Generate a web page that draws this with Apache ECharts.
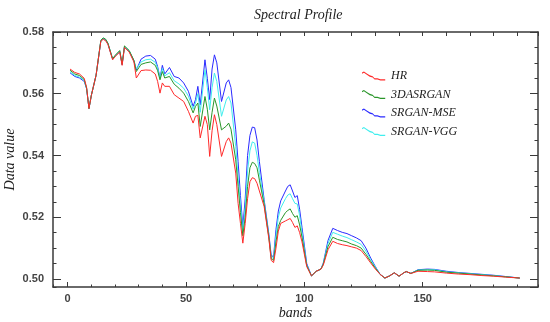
<!DOCTYPE html>
<html>
<head>
<meta charset="utf-8">
<script src="https://cdn.jsdelivr.net/npm/echarts@6/dist/echarts.min.js"></script>
<style>html,body{margin:0;padding:0;background:#fff}#c{width:550px;height:322px}</style>
</head>
<body>
<div id="c"></div>
<script>
const bands = [1,3,5,7,8,9,10,12,14,15,16,17,19,20,22,23,24,26,28,29,31,33,35,37,38,39,40,41,43,45,47,49,51,53,54,55,56,58,59,60,61,62,63,65,67,68,69,71,72,73,74,75,76,77,78,79,80,81,83,85,86,87,88,89,90,92,93,94,95,96,97,98,99,101,103,105,107,108,110,112,114,116,118,120,122,124,126,128,130,132,134,136,138,140,142,143,145,148,152,155,160,165,170,175,180,185,191];
const hr = [.5680,.5669,.5664,.5650,.5620,.5552,.5595,.5660,.5770,.5776,.5772,.5760,.5710,.5720,.5735,.5692,.5750,.5735,.5703,.5651,.5675,.5677,.5676,.5664,.5640,.5602,.5635,.5624,.5624,.5597,.5586,.5575,.5543,.5505,.5527,.5530,.5457,.5527,.5500,.5397,.5480,.5532,.5500,.5397,.5445,.5457,.5440,.5343,.5245,.5180,.5116,.5180,.5260,.5315,.5328,.5325,.5310,.5285,.5235,.5130,.5060,.5053,.5100,.5155,.5180,.5188,.5192,.5196,.5183,.5167,.5172,.5150,.5120,.5040,.5010,.5025,.5032,.5045,.5095,.5122,.5115,.5111,.5108,.5104,.5100,.5092,.5073,.5052,.5032,.5015,.5003,.5010,.5020,.5009,.5020,.5024,.5018,.5025,.5024,.5023,.5019,.5016,.5014,.5011,.5009,.5006,.5003];
const dasrgan = [.5676,.5664,.5659,.5646,.5618,.5552,.5595,.5660,.5773,.5781,.5777,.5764,.5713,.5724,.5740,.5696,.5755,.5740,.5708,.5672,.5695,.5700,.5703,.5692,.5675,.5645,.5672,.5651,.5656,.5631,.5618,.5602,.5575,.5538,.5559,.5570,.5494,.5591,.5550,.5483,.5540,.5586,.5560,.5483,.5495,.5505,.5485,.5386,.5300,.5215,.5140,.5200,.5300,.5360,.5378,.5374,.5360,.5320,.5242,.5135,.5065,.5060,.5120,.5170,.5190,.5215,.5222,.5227,.5212,.5200,.5205,.5175,.5135,.5043,.5010,.5025,.5032,.5048,.5105,.5135,.5128,.5124,.5120,.5113,.5108,.5100,.5080,.5057,.5035,.5015,.5003,.5010,.5020,.5009,.5020,.5024,.5018,.5028,.5029,.5028,.5022,.5019,.5016,.5013,.5010,.5007,.5003];
const srganMse = [.5668,.5656,.5651,.5640,.5616,.5552,.5595,.5660,.5770,.5779,.5775,.5762,.5712,.5722,.5737,.5694,.5752,.5738,.5706,.5677,.5712,.5722,.5724,.5712,.5688,.5651,.5692,.5664,.5685,.5656,.5651,.5635,.5608,.5559,.5581,.5624,.5564,.5710,.5650,.5581,.5680,.5726,.5700,.5575,.5635,.5645,.5620,.5483,.5380,.5270,.5168,.5260,.5400,.5465,.5492,.5490,.5450,.5380,.5257,.5145,.5075,.5073,.5160,.5220,.5253,.5285,.5300,.5305,.5285,.5264,.5270,.5225,.5167,.5050,.5010,.5025,.5032,.5052,.5125,.5164,.5157,.5151,.5147,.5140,.5133,.5124,.5100,.5068,.5040,.5015,.5003,.5010,.5020,.5009,.5020,.5024,.5018,.5030,.5032,.5031,.5025,.5021,.5018,.5015,.5012,.5008,.5003];
const srganVgg = [.5671,.5659,.5654,.5643,.5617,.5552,.5595,.5660,.5771,.5780,.5776,.5763,.5712,.5723,.5738,.5695,.5753,.5739,.5707,.5680,.5703,.5710,.5712,.5702,.5683,.5650,.5682,.5658,.5668,.5642,.5632,.5618,.5592,.5550,.5570,.5600,.5540,.5678,.5620,.5548,.5620,.5667,.5640,.5527,.5580,.5591,.5570,.5429,.5330,.5240,.5152,.5230,.5350,.5415,.5444,.5440,.5400,.5345,.5250,.5140,.5070,.5066,.5140,.5200,.5230,.5260,.5272,.5276,.5260,.5245,.5243,.5205,.5150,.5046,.5010,.5025,.5032,.5050,.5115,.5151,.5145,.5139,.5134,.5127,.5120,.5112,.5090,.5063,.5038,.5015,.5003,.5010,.5020,.5009,.5020,.5024,.5018,.5029,.5030,.5030,.5023,.5020,.5017,.5014,.5011,.5007,.5003];
const seriesNames = ['HR','3DASRGAN','SRGAN-MSE','SRGAN-VGG'];
const xRange = [-6.2, 198.7];
const yRange = [0.4974, 0.58];

const chart = echarts.init(document.getElementById('c'), null, {renderer:'canvas'});
const axisColor = '#3a3a3a';
const labelStyle = {color:'#444', fontFamily:'Liberation Sans', fontWeight:'bold', fontSize:11};
const nameStyle = {color:'#222', fontFamily:'Liberation Serif', fontStyle:'italic', fontWeight:'normal', fontSize:14};
function xa(pos, step, len, opts) {
  return Object.assign({
    type:'value', gridIndex:0, position:pos, min:xRange[0], max:xRange[1],
    minInterval:step, maxInterval:step,
    axisLine:{show:false, onZero:false, lineStyle:{color:axisColor, width:1.5}},
    axisTick:{show:true, inside:true, length:len, lineStyle:{color:axisColor, width:1}},
    axisLabel:{show:false}, splitLine:{show:false}
  }, opts || {});
}
function ya(pos, step, len, opts) {
  return Object.assign({
    type:'value', gridIndex:0, position:pos, min:yRange[0], max:yRange[1],
    minInterval:step, maxInterval:step,
    axisLine:{show:false, onZero:false, lineStyle:{color:axisColor, width:1.5}},
    axisTick:{show:true, inside:true, length:len, lineStyle:{color:axisColor, width:1}},
    axisLabel:{show:false}, splitLine:{show:false}
  }, opts || {});
}
const mk = arr => bands.map((b,i)=>[b, arr[i]]);
const colors = {'HR':'#ff2a2a','3DASRGAN':'#2a962a','SRGAN-MSE':'#2a2aff','SRGAN-VGG':'#40eeee'};
const dataMap = {'HR':hr,'3DASRGAN':dasrgan,'SRGAN-MSE':srganMse,'SRGAN-VGG':srganVgg};
const drawOrder = ['SRGAN-MSE','SRGAN-VGG','3DASRGAN','HR'];
const icon = 'path://M0,1 L2,0 L5,2 L8,4 L11,5 L13,7 L16,7 L19,8 L24,8 L24,9.3 L19,9.3 L16,8.3 L13,8.3 L11,6.3 L8,5.3 L5,3.3 L2,1.3 L0,2.3 Z';

chart.setOption({
  animation:false,
  backgroundColor:'#fff',
  title:{text:'Spectral Profile', left:249, top:3, textStyle:nameStyle},
  grid:{left:53, right:12, top:32, bottom:35, containLabel:false, outerBoundsMode:'none'},
  legend:{
    data:seriesNames, orient:'vertical', left:357, top:65, itemGap:6.5,
    itemWidth:25, itemHeight:9, icon:icon,
    textStyle:{color:'#222', fontFamily:'Liberation Serif', fontStyle:'italic', fontSize:12}
  },
  xAxis:[
    xa('bottom', 50, 5, {
      axisLine:{show:true, onZero:false, lineStyle:{color:axisColor, width:1.5}},
      axisLabel:Object.assign({show:true, margin:6, showMinLabel:false, showMaxLabel:false}, labelStyle),
      name:'bands', nameLocation:'middle', nameGap:19, nameMoveOverlap:false, nameTextStyle:nameStyle
    }),
    xa('bottom', 10, 2.5),
    xa('top', 10, 4, {axisLine:{show:true, onZero:false, lineStyle:{color:axisColor, width:1.5}}})
  ],
  yAxis:[
    ya('left', 0.02, 8, {
      axisLine:{show:true, onZero:false, lineStyle:{color:axisColor, width:1.5}},
      axisLabel:Object.assign({show:true, margin:9, showMinLabel:false, showMaxLabel:true, formatter:v=>v.toFixed(2)}, labelStyle),
      name:'Data value', nameLocation:'middle', nameGap:36, nameMoveOverlap:false, nameTextStyle:nameStyle
    }),
    ya('left', 0.005, 3.5),
    ya('right', 0.02, 8, {axisLine:{show:true, onZero:false, lineStyle:{color:axisColor, width:1.5}}}),
    ya('right', 0.005, 3.5)
  ],
  series: drawOrder.map(n => ({
    name:n, type:'line', xAxisIndex:0, yAxisIndex:0, data:mk(dataMap[n]),
    showSymbol:false, symbol:'none', color:colors[n],
    lineStyle:{width:1, color:colors[n]}, itemStyle:{color:colors[n]}
  }))
});
</script>
</body>
</html>
